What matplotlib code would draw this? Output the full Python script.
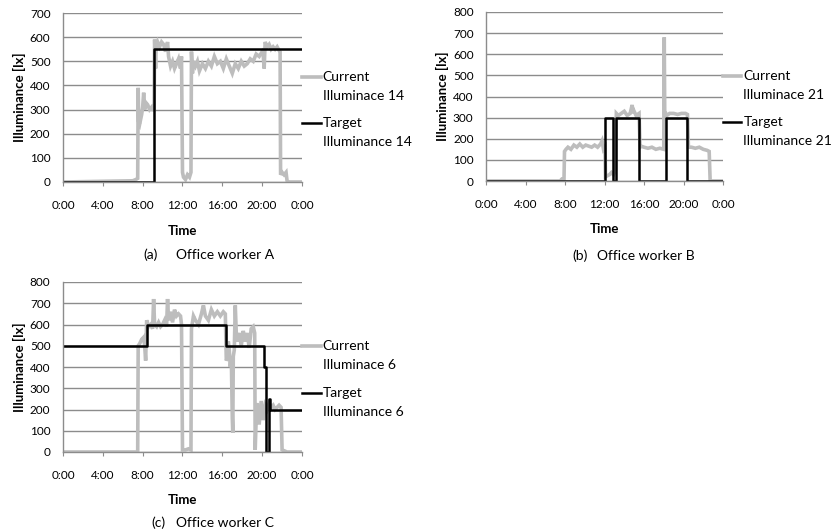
import matplotlib
matplotlib.use("Agg")
import matplotlib.pyplot as plt
from matplotlib.lines import Line2D

plt.rcParams['font.family'] = ['Lato', 'DejaVu Sans']

# ---------------- data ----------------
xticks = [0, 4, 8, 12, 16, 20, 24]
xticklabels = ['0:00', '4:00', '8:00', '12:00', '16:00', '20:00', '0:00']

# Office worker A
curA_t = [0, 7.0, 7.3, 7.5, 7.55, 7.6, 7.7, 7.8, 7.9, 8.0, 8.1, 8.2, 8.3, 8.5, 8.7, 8.9, 9.0, 9.15,
          9.2, 9.3, 9.35, 9.5, 9.7, 9.9, 10.1, 10.3, 10.5, 10.6, 10.8, 11.0, 11.2, 11.4, 11.6, 11.8,
          11.9, 12.0, 12.1, 12.3, 12.5, 12.7, 12.85, 12.9, 13.0, 13.1, 13.3, 13.5, 13.7, 14.0, 14.3,
          14.6, 14.9, 15.2, 15.5, 15.8, 16.1, 16.4, 16.7, 17.0, 17.3, 17.6, 17.9, 18.2, 18.5, 18.8,
          19.1, 19.4, 19.7, 20.0, 20.1, 20.2, 20.3, 20.5, 20.7, 20.9, 21.1, 21.3, 21.5, 21.7, 21.8,
          21.85, 22.0, 22.2, 22.4, 22.5, 22.6, 23.0, 24]
curA_v = [0, 5, 10, 15, 390, 250, 240, 260, 280, 310, 370, 300, 330, 320, 300, 310, 300, 300,
          590, 470, 560, 580, 560, 580, 570, 540, 580, 520, 480, 500, 470, 490, 510, 470,
          520, 40, 20, 10, 30, 20, 40, 540, 450, 500, 480, 500, 460, 490, 470,
          500, 480, 520, 490, 500, 470, 510, 480, 450, 490, 470, 500, 480, 490, 510,
          500, 530, 520, 540, 530, 470, 580, 560, 570, 550, 560, 550, 560, 545, 540,
          30, 40, 30, 40, 5, 0, 0, 0]
tgtA_t = [0, 9.1, 24]
tgtA_v = [0, 550, 550]

# Office worker B
curB_t = [0, 7.5, 7.7, 7.9, 7.95, 8.1, 8.3, 8.6, 8.9, 9.2, 9.5, 9.8, 10.1, 10.4, 10.7, 11.0, 11.3,
          11.6, 11.75, 11.9, 12.05, 12.1, 12.3, 12.5, 12.7, 12.9, 13.1, 13.2, 13.4, 13.7, 14.0, 14.3,
          14.6, 14.8, 14.9, 15.0, 15.2, 15.5, 15.6, 15.7, 16.0, 16.4, 16.8, 17.2, 17.6, 18.0, 18.05,
          18.1, 18.2, 18.3, 18.6, 19.0, 19.4, 19.8, 20.2, 20.4, 20.5, 20.8, 21.2, 21.6, 22.0, 22.4,
          22.6, 22.7, 24]
curB_v = [0, 0, 10, 10, 140, 150, 160, 150, 170, 160, 175, 160, 170, 165, 160, 170, 160,
          175, 190, 150, 160, 20, 25, 30, 40, 30, 50, 320, 310, 320, 330, 310,
          320, 360, 320, 330, 310, 320, 160, 165, 160, 155, 160, 150, 155, 150, 680,
          320, 320, 310, 320, 320, 315, 320, 320, 315, 160, 160, 155, 160, 150, 145,
          140, 0, 0]
tgtB_t = [0, 12.0, 12.85, 13.2, 15.5, 18.2, 20.4, 24]
tgtB_v = [0, 300, 0, 300, 0, 300, 0, 0]

# Office worker C
curC_t = [0, 7.5, 7.55, 7.7, 7.9, 8.1, 8.2, 8.3, 8.4, 8.6, 8.8, 9.0, 9.1, 9.2, 9.4, 9.6, 9.8, 10.0,
          10.2, 10.4, 10.5, 10.6, 10.8, 11.0, 11.2, 11.4, 11.6, 11.8, 11.9, 12.0, 12.3, 12.6, 12.85,
          12.9, 13.1, 13.3, 13.6, 13.9, 14.1, 14.3, 14.6, 14.9, 15.2, 15.5, 15.8, 16.1, 16.3, 16.4,
          16.5, 16.6, 16.7, 16.8, 16.9, 17.0, 17.05, 17.1, 17.2, 17.3, 17.4, 17.5, 17.7, 17.9, 18.1,
          18.3, 18.5, 18.7, 18.9, 19.1, 19.25, 19.3, 19.45, 19.55, 19.7, 19.9, 20.1, 20.3, 20.5,
          20.7, 20.9, 21.1, 21.3, 21.5, 21.7, 21.9, 22.0, 22.5, 24]
curC_v = [0, 0, 500, 510, 530, 540, 500, 430, 620, 590, 600, 580, 720, 600, 590, 610, 590, 600,
          620, 590, 720, 620, 660, 610, 670, 640, 650, 640, 600, 10, 10, 15, 10,
          580, 640, 620, 600, 650, 690, 640, 620, 670, 640, 660, 640, 660, 650, 430,
          440, 520, 480, 400, 450, 160, 90, 450, 480, 690, 560, 520, 560, 500, 570,
          520, 560, 490, 580, 590, 560, 10, 230, 200, 130, 240, 150, 220, 200,
          230, 210, 220, 200, 210, 220, 210, 10, 0, 0]
tgtC_t = [0, 8.4, 16.4, 20.2, 20.35, 20.65, 20.8, 24]
tgtC_v = [500, 600, 500, 400, 0, 250, 200, 200]

panels = [
    dict(cur=(curA_t, curA_v), tgt=(tgtA_t, tgtA_v), ymax=700, n='14',
         rect=[63/833, 1-182/532, 239/833, 169/532], tag='(a)', cap='Office worker A',
         tagx=0.337, capx=0.473, capy=-0.432, lp=10),
    dict(cur=(curB_t, curB_v), tgt=(tgtB_t, tgtB_v), ymax=800, n='21',
         rect=[486/833, 1-181/532, 237/833, 169/532], tag='(b)', cap='Office worker B',
         tagx=0.366, capx=0.468, capy=-0.444, lp=9),
    dict(cur=(curC_t, curC_v), tgt=(tgtC_t, tgtC_v), ymax=800, n='6',
         rect=[63/833, 1-452/532, 239/833, 170/532], tag='(c)', cap='Office worker C',
         tagx=0.368, capx=0.473, capy=-0.418, lp=9),
]

GRID = '#8c8c8c'
CUR = '#bdbdbd'

fig = plt.figure(figsize=(8.33, 5.32), dpi=100)
for p in panels:
    ax = fig.add_axes(p['rect'])
    ax.plot(p['cur'][0], p['cur'][1], color=CUR, lw=2.6, solid_joinstyle='miter')
    ax.plot(p['tgt'][0], p['tgt'][1], color='black', lw=1.8, drawstyle='steps-post')
    ax.set_xlim(0, 24)
    ax.set_ylim(0, p['ymax'])
    ax.set_xticks(xticks)
    ax.set_xticklabels(xticklabels)
    ax.set_yticks(range(0, p['ymax'] + 1, 100))
    ax.yaxis.grid(True, color=GRID, lw=1.0)
    ax.set_axisbelow(True)
    for s in ['top', 'right']:
        ax.spines[s].set_visible(False)
    for s in ['left', 'bottom']:
        ax.spines[s].set_color(GRID)
        ax.spines[s].set_linewidth(1.0)
    ax.tick_params(axis='x', length=3, color=GRID, labelsize=8.5, pad=10)
    ax.tick_params(axis='y', length=0, labelsize=8.5, pad=9)
    ax.set_ylabel('Illuminance [lx]', fontsize=9.5, fontweight='bold', labelpad=3)
    ax.set_xlabel('Time', fontsize=9.5, fontweight='bold', labelpad=p['lp'])
    ax.text(p['tagx'], p['capy'], p['tag'], transform=ax.transAxes, ha='left', va='center', fontsize=10)
    ax.text(p['capx'], p['capy'], p['cap'], transform=ax.transAxes, ha='left', va='center', fontsize=10)
    # legend (manual, handle aligned with first text line)
    for yl, col, lw, l1, l2 in [(0.621, CUR, 2.6, 'Current', 'Illuminace ' + p['n']),
                                (0.349, 'black', 1.8, 'Target', 'Illuminance ' + p['n'])]:
        ax.add_line(Line2D([1.0, 1.078], [yl, yl], color=col, lw=lw, transform=ax.transAxes,
                           clip_on=False))
        ax.text(1.086, yl, l1, transform=ax.transAxes, ha='left', va='center', fontsize=10)
        ax.text(1.086, yl - 0.112, l2, transform=ax.transAxes, ha='left', va='center', fontsize=10)

fig.savefig('out.png', dpi=100)
